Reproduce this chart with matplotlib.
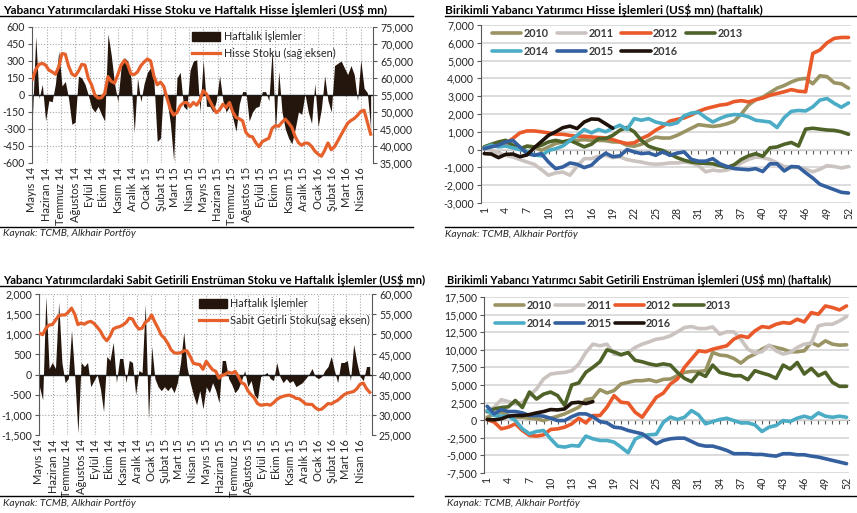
import numpy as np
import pandas as pd
import matplotlib
matplotlib.use("Agg")
import matplotlib.pyplot as plt
from matplotlib.ticker import FuncFormatter, MultipleLocator
from matplotlib.lines import Line2D
from matplotlib.patches import Patch

plt.rcParams['font.family'] = ['Lato', 'DejaVu Sans']

# --- data -------------------------------------------------------------
months = ["Mayıs 14", "Haziran 14", "Temmuz 14", "Ağustos 14", "Eylül 14", "Ekim 14",
          "Kasım 14", "Aralık 14", "Ocak 15", "Şubat 15", "Mart 15", "Nisan 15",
          "Mayıs 15", "Haziran 15", "Temmuz 15", "Ağustos 15", "Eylül 15", "Ekim 15",
          "Kasım 15", "Aralık 15", "Ocak 16", "Şubat 16", "Mart 16", "Nisan 16"]

hisse_haftalik = [-185, 518, -30, 94, -228, -50, -60, 100, 386, 80,
                  120, -30, -258, -240, 167, 150, 95, 0, -110, -150,
                  -100, -170, -230, 540, 350, 100, -60, 250, 330, 300,
                  150, -330, 150, -60, 100, 200, 240, 120, -410, -380,
                  100, -50, -250, -580, 150, 200, -100, -130, 220, 300,
                  310, -150, 310, -100, -100, -150, -50, 170, -50, -150,
                  -100, -200, -320, -80, 30, 30, -230, -150, -110, -100,
                  30, 30, -50, 400, -330, 210, -150, -300, -380, -430,
                  -300, -150, -170, 10, -150, -250, 100, -280, -120, 170,
                  -50, -150, 260, 280, 300, 240, 180, 260, 180, -50,
                  310, 60, 20, -300]
hisse_stok = [59700, 62500, 64000, 64300, 63800, 62300, 61800, 61100, 63300, 67200,
              67000, 63500, 61200, 60600, 62000, 64000, 63800, 59900, 58000, 55000,
              54100, 54200, 55500, 60400, 59000, 58500, 61000, 63800, 65200, 64000,
              61200, 61000, 61800, 63600, 64700, 65600, 65000, 60500, 58000, 58800,
              57500, 54000, 50800, 49100, 49800, 51800, 52700, 52800, 51600, 52800,
              52000, 53500, 56300, 55300, 53300, 51500, 49800, 50600, 52300, 51300,
              52800, 50000, 48400, 48000, 47400, 44000, 42900, 42700, 41000, 39800,
              41300, 41800, 42300, 45200, 46000, 45800, 47000, 47900, 46800, 45500,
              42800, 41000, 40200, 40900, 40800, 39900, 38500, 37600, 37000, 38700,
              40900, 38900, 39800, 41500, 43300, 45000, 46700, 47500, 48100, 49000,
              50200, 50500, 47000, 43500]

sabit_haftalik = [-300, -630, 1940, 150, 300, 150, 1800, 300, -200, -100,
                  1100, -50, -1450, 300, 200, 300, -300, -150, 0, -350,
                  -920, 450, 350, 800, -200, 400, 400, -200, 350, 300,
                  -500, 100, 50, 1750, -1130, 700, -100, -300, -400, -300,
                  -400, -300, -450, -200, 300, 1050, 200, -200, -500, -750,
                  -400, -850, -300, -450, -200, -400, -700, 350, 350, -100,
                  -250, -450, -350, -150, 100, -300, -150, -500, -600, -50,
                  0, 50, -100, -150, 300, -50, -200, -100, -200, -150,
                  -300, -250, -200, -100, 0, 150, -50, -100, -50, 100,
                  200, 450, 100, -200, 300, 300, 350, -150, 750, 300,
                  -50, -150, 200, 200]
sabit_stok = [50300, 49900, 51500, 52300, 52400, 53500, 54600, 54800, 54800, 55500,
              56500, 55000, 52400, 52800, 52500, 53000, 53200, 52700, 51800, 50800,
              49300, 48400, 49500, 51300, 51700, 51900, 52300, 52900, 54000, 53800,
              52300, 51300, 51500, 53000, 53500, 54800, 53000, 51500, 49800, 49000,
              47800, 46200, 45400, 45300, 45400, 45900, 45900, 44500, 42800, 42600,
              42500, 41300, 43300, 42200, 41200, 40800, 39100, 39800, 40100, 40600,
              40300, 40800, 39600, 38000, 37600, 36000, 35000, 34200, 32800, 32400,
              32500, 32600, 32400, 33000, 33800, 34300, 34600, 34800, 34900, 34600,
              34100, 34000, 33400, 32700, 32600, 32600, 31800, 31300, 31400, 32100,
              32800, 32700, 33200, 33600, 34300, 35000, 35400, 35600, 35800, 36500,
              37600, 37900, 36500, 35600]

years = ["2010", "2011", "2012", "2013", "2014", "2015", "2016"]

hisse_2010 = [50, 190, 380, 430, 190, 50, 190, 150, -40, 150, 340, 430, 520, 520, 560, 520,
              520, 500, 430, 430, 240, 190, 300, 520, 700, 650, 650, 800, 1000, 1200, 1400,
              1350, 1300, 1350, 1450, 1600, 2000, 2500, 2800, 2950, 3200, 3450, 3600, 3800,
              3950, 4000, 3700, 4150, 4100, 3750, 3700, 3450]
hisse_2011 = [50, -40, -190, -320, -410, -560, -700, -825, -1125, -1440, -1310, -1260, -1440,
              -940, -510, -510, -375, -320, -450, -410, -560, -640, -700, -790, -825, -800,
              -750, -750, -700, -750, -900, -1250, -1150, -1200, -1150, -1000, -750, -550,
              -420, -450, -550, -750, -950, -1000, -1000, -1100, -1250, -1100, -900, -950,
              -1030, -950]
hisse_2012 = [150, 250, 250, 340, 620, 940, 1050, 1050, 1000, 940, 860, 860, 800, 750, 750,
              710, 680, 660, 560, 430, 340, 380, 620, 800, 1090, 1310, 1600, 1700, 1780, 1950,
              2150, 2300, 2400, 2500, 2550, 2700, 2750, 2680, 2800, 2900, 3050, 3150, 3250,
              3370, 3280, 3250, 5400, 5600, 6000, 6250, 6300, 6300]
hisse_2013 = [150, 300, 430, 520, 240, 50, 190, 150, 240, 430, 520, 430, 520, 340, 150, 300,
              620, 620, 800, 1090, 1240, 1000, 520, 190, 50, -50, -250, -450, -600, -700, -750,
              -780, -800, -900, -1000, -850, -550, -350, -230, -375, 100, 150, 300, 400, 200,
              1150, 1200, 1150, 1100, 1080, 1000, 860]
hisse_2014 = [100, 250, 150, 200, 100, 0, -100, -300, -350, -50, 50, 200, 500, 800, 1130, 940,
              1130, 1000, 1200, 1370, 1130, 1740, 1650, 1740, 1550, 1460, 1400, 1500, 1900,
              2050, 2100, 1800, 1550, 1750, 1900, 1970, 1950, 1840, 1650, 1600, 1550, 1240,
              1800, 2150, 2200, 2170, 2400, 2780, 2870, 2600, 2380, 2620]
hisse_2015 = [50, 150, 250, 430, 520, 150, -225, -320, -225, -700, -1070, -975, -750, -825,
              -1010, -880, -500, -200, -400, -350, 0, -130, -225, -190, -320, -130, -320, -200,
              -130, -550, -650, -650, -510, -800, -950, -1070, -1100, -1130, -1070, -1230,
              -800, -800, -1200, -950, -975, -1300, -1600, -1950, -2100, -2250, -2400, -2440]
hisse_2016 = [-225, -250, -450, -270, -250, -400, -300, 100, 450, 800, 1000, 1230, 1320,
              1180, 1550, 1720, 1700, 1450, 1200]

sabit_2010 = [420, 900, 1130, 660, 420, 420, 280, 190, -50, 280, 570, 900, 1370, 1840, 2920,
              3110, 4340, 3870, 4200, 5140, 5380, 5610, 5610, 5750, 5470, 5800, 5850, 6320,
              6790, 6930, 6930, 7030, 9620, 9250, 9150, 8770, 8110, 8920, 9390, 10090, 10570,
              10330, 10090, 9720, 9720, 9860, 11040, 10570, 11270, 10800, 10660, 10710]
sabit_2011 = [1370, 1840, 2920, 2640, 2310, 2550, 3490, 4430, 5850, 6560, 6700, 6790, 7030,
              7970, 9620, 10800, 10570, 10800, 9390, 9250, 9620, 10330, 10800, 11130, 11510,
              11650, 11980, 12550, 13160, 13300, 13020, 13020, 13250, 12220, 12550, 12550,
              11510, 10090, 9530, 9720, 10660, 9860, 9390, 9620, 10330, 10800, 10940, 13390,
              13630, 13630, 14100, 14720]
sabit_2012 = [100, -280, -1230, -990, -520, -1460, -2170, -2260, -2080, -1320, -1230, -990,
              -520, 280, -380, 660, 660, 1840, 3490, 2550, 2450, 1130, 420, 1840, 3250, 3850,
              5140, 5850, 7500, 8680, 9860, 9720, 10090, 10330, 10570, 11510, 11980, 11750,
              12690, 13300, 13160, 13630, 13870, 13770, 14340, 13960, 15280, 15050, 16230,
              16000, 15660, 16230]
sabit_2013 = [1200, 1600, 1800, 1900, 2800, 1800, 4000, 3000, 3700, 4000, 3500, 2100, 5000,
              5300, 6800, 7500, 8300, 10000, 9700, 9300, 9600, 8500, 8300, 8000, 7800, 8000,
              7830, 6790, 5940, 5470, 6700, 6230, 7830, 6790, 6560, 6320, 6320, 5750, 7030,
              6700, 6420, 5940, 7830, 7260, 8200, 6560, 7360, 6320, 6790, 5380, 4810, 4810]
sabit_2014 = [1370, 660, 570, 570, -50, -1230, -1930, -1600, -1460, -2640, -3680, -3820,
              -3590, -3680, -2260, -2640, -2880, -2880, -3110, -3820, -4620, -2700, -2170,
              -2080, -2000, -300, 450, 100, 420, 1370, 750, -520, -190, 100, 280, -50, -380,
              -380, -660, -1600, -990, -750, -50, -190, 280, 570, 280, 1040, 570, 420, 570, 420]
sabit_2015 = [1980, 900, 1510, 1230, 1230, 1040, 660, 660, 570, 280, -50, -50, 500, 900, 900,
              500, -190, -380, -990, -1100, -1460, -1700, -1930, -2640, -3350, -2880, -2640,
              -2550, -2550, -3020, -3490, -3680, -3680, -3960, -4290, -4760, -4760, -4760,
              -4860, -4860, -5000, -5100, -4760, -4760, -4910, -4910, -5100, -5240, -5470,
              -5710, -5940, -6180]
sabit_2016 = [100, 50, 190, 570, 660, 660, 800, 1040, 1230, 1510, 1460, 1600, 2450, 2550,
              2360, 2640]

# --- style ------------------------------------------------------------
W, H = 857, 513
DARK = '#25160d'
ORANGE = '#e5602a'
year_colors = ['#9a9464', '#cbc3bf', '#e9592a', '#4f6228', '#4bacc6', '#34609f', '#1e120a']
AXIS = '#595959'
TXT = '#262626'

fig = plt.figure(figsize=(W / 100, H / 100), dpi=100)


def box(x0, y0, x1, y1):
    return [x0 / W, 1 - y1 / H, (x1 - x0) / W, (y1 - y0) / H]


def hline(x0, x1, y):
    fig.add_artist(Line2D([x0 / W, x1 / W], [1 - y / H, 1 - y / H], color='black', lw=1))


def caption(x, y, title, y2, size=8.6):
    fig.text(x / W, 1 - y / H, title, fontsize=size, fontweight='bold', color='black', va='center')
    fig.text(x / W, 1 - y2 / H, "Kaynak: TCMB, Alkhair Portföy", fontsize=7.4,
             style='italic', color=TXT, va='center')


thousands = FuncFormatter(lambda v, p: f"{v:,.0f}")

dates = pd.date_range('2014-05-02', periods=len(hisse_haftalik), freq='7D')
month_starts = pd.date_range('2014-05-01', periods=len(months), freq='MS')


def left_panel(rect, flows, stock, lims, step, rlims, rstep, line_label, leg_xy):
    ax = fig.add_axes(rect)
    ax.set_axisbelow(True)
    ax.fill_between(dates, flows, 0, color=DARK, lw=0)
    ax.axhline(0, color='#1a1a1a', lw=1)
    ax.set_xlim(pd.Timestamp('2014-05-01'), pd.Timestamp('2016-04-27'))
    ax.set_ylim(*lims)
    ax.yaxis.set_major_locator(MultipleLocator(step))
    ax.yaxis.set_major_formatter(thousands)
    ax.set_xticks(month_starts)
    ax.set_xticklabels(months, rotation=90)
    ax.grid(True, ls=(0, (1, 1.6)), color='#a6a6a6', lw=0.8)
    ax.tick_params(axis='x', length=0, pad=3, labelsize=8.0, labelcolor=TXT)
    ax.tick_params(axis='y', length=3, color=AXIS, labelsize=7.6, labelcolor=TXT, pad=2)
    for s in ['top', 'bottom', 'right']:
        ax.spines[s].set_visible(False)
    ax.spines['left'].set_color(AXIS)

    ax2 = ax.twinx()
    ax2.plot(dates, stock, color=ORANGE, lw=2.3)
    ax2.set_ylim(*rlims)
    ax2.yaxis.set_major_locator(MultipleLocator(rstep))
    ax2.yaxis.set_major_formatter(thousands)
    ax2.tick_params(axis='y', length=3, color=AXIS, labelsize=7.6, labelcolor=TXT, pad=2)
    for s in ['top', 'bottom', 'left']:
        ax2.spines[s].set_visible(False)
    ax2.spines['right'].set_color(AXIS)

    handles = [Patch(color=DARK, label="Haftalık İşlemler"),
               Line2D([], [], color=ORANGE, lw=2.3, label=line_label)]
    ax2.legend(handles=handles, loc='upper left', bbox_to_anchor=leg_xy, frameon=False,
               fontsize=7.8, handlelength=2.6, handleheight=0.9, handletextpad=0.3,
               labelspacing=0.55, borderpad=0, borderaxespad=0, labelcolor=TXT)


def right_panel(rect, series, lims, step, colspace):
    ax = fig.add_axes(rect)
    ax.set_axisbelow(True)
    lines = []
    for vals, col, name in zip(series, year_colors, years):
        ln, = ax.plot(range(1, len(vals) + 1), vals, color=col, lw=2.6,
                      solid_capstyle='round', solid_joinstyle='round', label=name)
        lines.append(ln)
    ax.set_xlim(0.55, 52.35)
    ax.set_ylim(*lims)
    ax.yaxis.set_major_locator(MultipleLocator(step))
    ax.yaxis.set_major_formatter(thousands)
    ax.set_xticks(range(1, 53, 3))
    ax.set_xticklabels([str(w) for w in range(1, 53, 3)], rotation=90)
    ax.yaxis.grid(True, color='#d9d9d9', lw=1.3)
    ax.tick_params(axis='x', length=0, pad=3, labelsize=7.6, labelcolor=TXT)
    ax.tick_params(axis='y', length=3, color=AXIS, labelsize=7.6, labelcolor=TXT, pad=2)
    for s in ['top', 'bottom', 'right']:
        ax.spines[s].set_visible(False)
    ax.spines['left'].set_color(AXIS)

    zero = ax.secondary_xaxis(-lims[0] / (lims[1] - lims[0]))
    zero.set_xticks(range(1, 53))
    zero.tick_params(axis='x', length=3, color=AXIS, labelbottom=False)
    zero.spines['bottom'].set_color(AXIS)

    order = [0, 4, 1, 5, 2, 6, 3]
    ax.legend(handles=[lines[k] for k in order], loc='upper left', bbox_to_anchor=(0.03, 0.985),
              ncol=4, frameon=False, handlelength=2.7, handletextpad=0.2,
              columnspacing=colspace, labelspacing=0.7, borderpad=0, borderaxespad=0,
              prop={'weight': 'bold', 'size': 7.8}, labelcolor='#3a3a3a')


# --- panels -----------------------------------------------------------
left_panel(box(32, 27, 373, 163), hisse_haftalik, hisse_stok, (-600, 600), 150,
           (35000, 75000), 5000, "Hisse Stoku (sağ eksen)", (0.47, 0.975))
left_panel(box(39, 294, 372, 435), sabit_haftalik, sabit_stok, (-1500, 2000), 500,
           (25000, 60000), 5000, "Sabit Getirli Stoku(sağ eksen)", (0.48, 0.975))

right_panel(box(481, 25, 851, 203),
            [hisse_2010, hisse_2011, hisse_2012, hisse_2013, hisse_2014, hisse_2015, hisse_2016],
            (-3000, 7000), 1000, 0.75)
right_panel(box(484, 297, 849, 473),
            [sabit_2010, sabit_2011, sabit_2012, sabit_2013, sabit_2014, sabit_2015, sabit_2016],
            (-7500, 17500), 2500, 0.3)

caption(3, 10, "Yabancı Yatırımcılardaki Hisse Stoku ve Haftalık Hisse İşlemleri (US$ mn)", 234)
caption(445, 10, "Birikimli Yabancı Yatırımcı Hisse İşlemleri (US$ mn) (haftalık)", 235)
caption(3, 280, "Yabancı Yatırımcılardaki Sabit Getirili Enstrüman Stoku ve Haftalık İşlemler (US$ mn)",
        504, size=8.1)
caption(447, 280, "Birikimli Yabancı Yatırımcı Sabit Getirili Enstrüman İşlemleri (US$ mn) (haftalık)",
        504, size=7.9)

hline(0, 413, 16)
hline(445, 857, 16)
hline(0, 413, 227)
hline(445, 857, 227)
hline(0, 413, 286)
hline(445, 857, 286)
hline(0, 413, 496)
hline(445, 857, 496)

fig.savefig("out.png", dpi=100, facecolor='white')
